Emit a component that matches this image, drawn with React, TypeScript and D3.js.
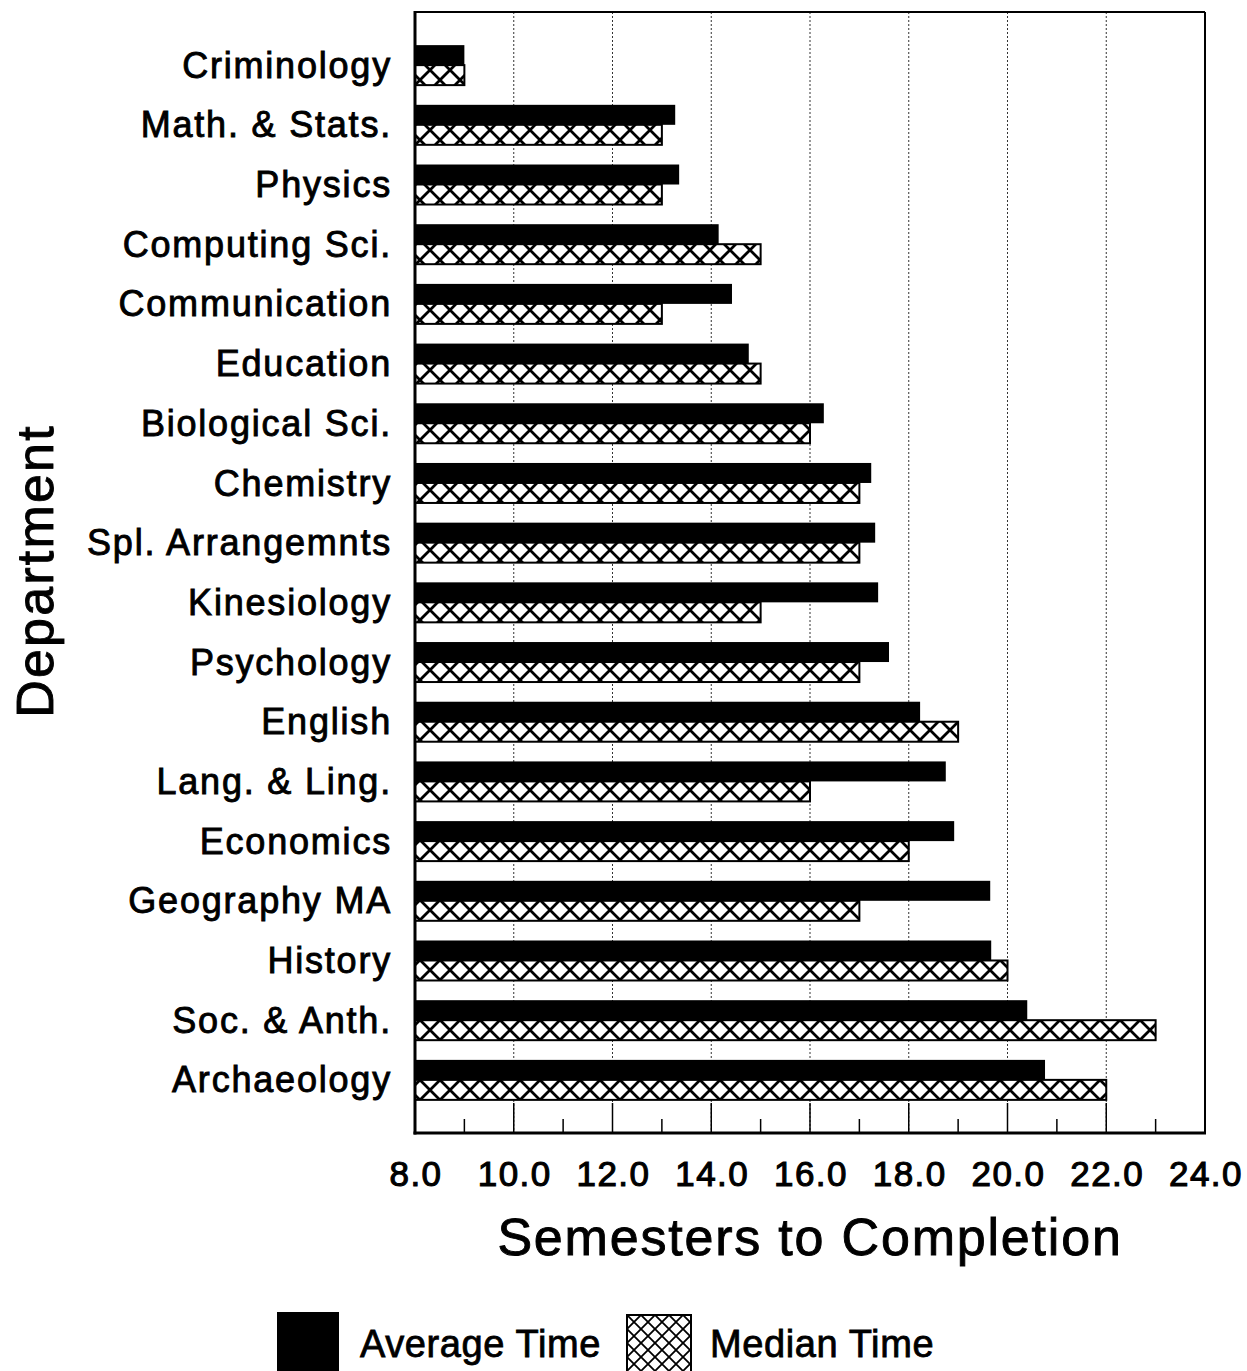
import React from "react";
import * as d3 from "d3";

const departments = [
  "Criminology", "Math. & Stats.", "Physics", "Computing Sci.", "Communication",
  "Education", "Biological Sci.", "Chemistry", "Spl. Arrangemnts", "Kinesiology",
  "Psychology", "English", "Lang. & Ling.", "Economics", "Geography MA",
  "History", "Soc. & Anth.", "Archaeology",
];
const averageTime = [
  9.0, 13.27, 13.35, 14.15, 14.42, 14.76, 16.28, 17.24, 17.32, 17.38,
  17.6, 18.23, 18.75, 18.92, 19.65, 19.67, 20.4, 20.76,
];
const medianTime = [
  9.0, 13.0, 13.0, 15.0, 13.0, 15.0, 16.0, 17.0, 17.0, 15.0,
  17.0, 19.0, 16.0, 18.0, 17.0, 20.0, 23.0, 22.0,
];
const xTicks = [8, 10, 12, 14, 16, 18, 20, 22, 24];
const minorTicks = [9, 11, 13, 15, 17, 19, 21, 23];
const seriesNames = ["Average Time", "Median Time"];

const W = 1247, H = 1371;
const left = 415, right = 1205, top = 12, bottom = 1133;
const FONT = "'Liberation Sans', Arial, Helvetica, sans-serif";

export default function App() {
  const x = d3.scaleLinear().domain([8, 24]).range([left, right]);
  const y = d3.scaleBand<string>().domain(departments).range([top, bottom]).paddingInner(0.33).paddingOuter(0.555);
  const sub = d3.scaleBand<string>().domain(seriesNames).range([0, y.bandwidth()]).padding(0);
  const fmt = d3.format(".1f");
  const ts = (sw: number, ls: number) => ({ fontFamily: FONT, fill: "#000", stroke: "#000", strokeWidth: sw, letterSpacing: ls + "px" });

  return (
    <svg width={W} height={H} style={{ position: "absolute", left: 0, top: 0, background: "#fff" }}>
      <defs>
        <pattern id="hatch" patternUnits="userSpaceOnUse" width={20} height={20}>
          <rect width={20} height={20} fill="#fff" />
          <path d="M0,0 L20,20 M20,0 L0,20 M-2,18 L2,22 M18,-2 L22,2 M-2,2 L2,-2 M18,22 L22,18" stroke="#000" strokeWidth={2.8} />
        </pattern>
        <pattern id="hatchSmall" patternUnits="userSpaceOnUse" width={14} height={14} x={627} y={1315}>
          <rect width={14} height={14} fill="#fff" />
          <path d="M0,0 L14,14 M14,0 L0,14" stroke="#000" strokeWidth={1.8} />
        </pattern>
      </defs>
      <rect x={0} y={0} width={W} height={H} fill="#fff" />

      {/* gridlines */}
      {xTicks.slice(1, -1).map((t) => (
        <line key={"g" + t} x1={x(t)} x2={x(t)} y1={top} y2={bottom} stroke="#333" strokeWidth={1} strokeDasharray="2,2" />
      ))}
      {/* ticks */}
      {minorTicks.map((t) => (
        <line key={"m" + t} x1={x(t)} x2={x(t)} y1={bottom - 14} y2={bottom} stroke="#000" strokeWidth={1.5} />
      ))}
      {xTicks.slice(1, -1).map((t) => (
        <line key={"M" + t} x1={x(t)} x2={x(t)} y1={bottom - 30} y2={bottom} stroke="#000" strokeWidth={1.5} />
      ))}

      {/* bars */}
      {departments.map((d, i) => {
        const y0 = y(d) as number;
        return (
          <g key={d}>
            <rect x={x(8)} y={y0 + (sub("Average Time") as number)} width={x(averageTime[i]) - x(8)} height={sub.bandwidth()} fill="#000" />
            <rect x={x(8)} y={y0 + (sub("Median Time") as number)} width={x(medianTime[i]) - x(8)} height={sub.bandwidth()} fill="url(#hatch)" stroke="#000" strokeWidth={2} />
            <text x={392} y={y0 + y.bandwidth() / 2} dy="0.35em" textAnchor="end" fontSize={36} style={ts(0.9, 1.8)}>{d}</text>
          </g>
        );
      })}

      {/* frame */}
      <line x1={left} x2={right} y1={top} y2={top} stroke="#000" strokeWidth={2} />
      <line x1={right} x2={right} y1={top} y2={bottom} stroke="#000" strokeWidth={2} />
      <line x1={left} x2={left} y1={top - 1} y2={bottom + 1.5} stroke="#000" strokeWidth={3} />
      <line x1={left - 1.5} x2={right + 1} y1={bottom} y2={bottom} stroke="#000" strokeWidth={3} />

      {/* x tick labels */}
      {xTicks.map((t) => (
        <text key={"l" + t} x={x(t) + 1} y={1186} textAnchor="middle" fontSize={35} style={ts(1.1, 1.5)}>{fmt(t)}</text>
      ))}

      <text x={810} y={1255} textAnchor="middle" fontSize={52} style={ts(0.9, 1.8)}>Semesters to Completion</text>
      <text transform="translate(53,571) rotate(-90)" textAnchor="middle" fontSize={52} style={ts(0.9, 2.2)}>Department</text>

      {/* legend */}
      <rect x={277} y={1312} width={62} height={62} fill="#000" />
      <text x={360} y={1357} fontSize={38} style={ts(0.8, 0.6)}>{seriesNames[0]}</text>
      <rect x={627} y={1315} width={64} height={60} fill="url(#hatchSmall)" stroke="#000" strokeWidth={2} />
      <text x={710} y={1357} fontSize={38} style={ts(0.8, 0.6)}>{seriesNames[1]}</text>
    </svg>
  );
}
